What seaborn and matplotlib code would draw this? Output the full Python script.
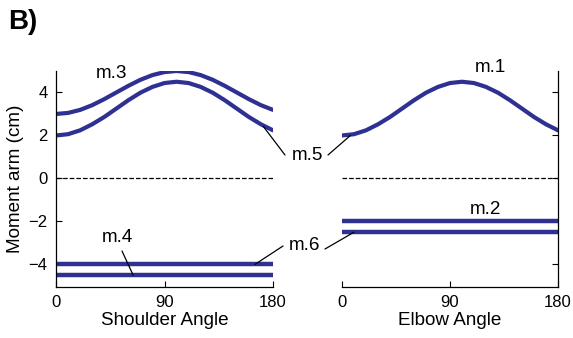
#!/usr/bin/env python3
"""
Moment arms of the six muscles over shoulder and elbow angle (panel B)
"""
import matplotlib
matplotlib.use("Agg")
import matplotlib.pyplot as plt
import seaborn as sns

angles = [0, 10, 20, 30, 40, 50, 60, 70, 80, 90, 100, 110, 120, 130, 140, 150, 160, 170, 180]

# shoulder muscles (cm)
m3 = [3.00, 3.05, 3.19, 3.41, 3.69, 4.00, 4.31, 4.59, 4.81, 4.95, 5.00, 4.95, 4.81, 4.59, 4.31, 4.00, 3.69, 3.41, 3.19]
m5 = [2.00, 2.06, 2.24, 2.52, 2.86, 3.25, 3.64, 3.99, 4.26, 4.44, 4.50, 4.44, 4.26, 3.99, 3.64, 3.25, 2.86, 2.52, 2.24]
m4_ends = [0, 180]
m4 = [-4.5, -4.5]
m6_shoulder = [-4.0, -4.0]

# elbow muscles (cm)
m1 = [2.00, 2.06, 2.24, 2.52, 2.86, 3.25, 3.64, 3.99, 4.26, 4.44, 4.50, 4.44, 4.26, 3.99, 3.64, 3.25, 2.86, 2.52, 2.24]
m2 = [-2.0, -2.0]
m6_elbow = [-2.5, -2.5]

xticks = [0, 90, 180]
yticks = [-4, -2, 0, 2, 4]

BLUE = "#2e3192"
W, H = 573, 338
LABEL_FS = 13.6


def fx(px):
    return px / W


def fy(py):
    return 1 - py / H


sns.set_style("ticks")
plt.rcParams['font.family'] = ['Liberation Sans', 'DejaVu Sans']
plt.rcParams['font.size'] = 12
plt.rcParams['xtick.direction'] = 'in'
plt.rcParams['ytick.direction'] = 'in'
for key in ['text.color', 'axes.labelcolor', 'xtick.color', 'ytick.color']:
    plt.rcParams[key] = 'black'

fig = plt.figure(figsize=(W / 100, H / 100), dpi=100)
ax_s = fig.add_axes([fx(56), fy(287), fx(273) - fx(56), fy(71) - fy(287)])
ax_e = fig.add_axes([fx(342), fy(287), fx(558) - fx(342), fy(71) - fy(287)])

# shoulder panel
sns.lineplot(x=angles, y=m3, ax=ax_s, color=BLUE, lw=3.0)
sns.lineplot(x=angles, y=m5, ax=ax_s, color=BLUE, lw=3.0)
sns.lineplot(x=m4_ends, y=m6_shoulder, ax=ax_s, color=BLUE, lw=3.2)
sns.lineplot(x=m4_ends, y=m4, ax=ax_s, color=BLUE, lw=3.2)
ax_s.plot([0, 180], [0, 0], 'k--', lw=0.9)

# elbow panel
sns.lineplot(x=angles, y=m1, ax=ax_e, color=BLUE, lw=3.0)
sns.lineplot(x=m4_ends, y=m2, ax=ax_e, color=BLUE, lw=3.2)
sns.lineplot(x=m4_ends, y=m6_elbow, ax=ax_e, color=BLUE, lw=3.2)
ax_e.plot([0, 180], [0, 0], 'k--', lw=0.9)

for ax in (ax_s, ax_e):
    ax.set_xlim(0, 180)
    ax.set_ylim(-5.05, 5.0)
    ax.set_xticks(xticks)
    ax.set_yticks(yticks)
    ax.tick_params(length=4, width=0.8, labelsize=12, pad=6)
    ax.spines['top'].set_visible(False)
    for s in ax.spines.values():
        s.set_linewidth(0.9)
        s.set_color('black')

ax_s.spines['right'].set_visible(False)
ax_s.set_xlabel('Shoulder Angle', fontsize=LABEL_FS, labelpad=1)
ax_s.set_ylabel('Moment arm (cm)', fontsize=LABEL_FS, labelpad=3)

ax_e.spines['left'].set_visible(False)
ax_e.yaxis.tick_right()
ax_e.tick_params(axis='y', labelright=False)
ax_e.set_xlabel('Elbow Angle', fontsize=LABEL_FS, labelpad=1)

# muscle labels
fig.text(fx(112), fy(73), 'm.3', ha='center', va='center', fontsize=LABEL_FS)
fig.text(fx(490), fy(68), 'm.1', ha='center', va='center', fontsize=LABEL_FS)
fig.text(fx(486), fy(209), 'm.2', ha='center', va='center', fontsize=LABEL_FS)
fig.text(fx(117), fy(238), 'm.4', ha='center', va='center', fontsize=LABEL_FS)
fig.text(fx(307), fy(156), 'm.5', ha='center', va='center', fontsize=LABEL_FS)
fig.text(fx(305), fy(246), 'm.6', ha='center', va='center', fontsize=LABEL_FS)

# leader lines
lead = dict(arrowstyle='-', color='black', lw=0.9, shrinkA=0, shrinkB=0)
ax_s.annotate('', xy=(172, 2.42), xytext=(fx(285), fy(155)), textcoords='figure fraction',
              arrowprops=lead, annotation_clip=False)
ax_e.annotate('', xy=(7, 2.0), xytext=(fx(328), fy(155)), textcoords='figure fraction',
              arrowprops=lead, annotation_clip=False)
ax_s.annotate('', xy=(165, -4.0), xytext=(fx(283), fy(246)), textcoords='figure fraction',
              arrowprops=lead, annotation_clip=False)
ax_e.annotate('', xy=(10, -2.5), xytext=(fx(325), fy(249)), textcoords='figure fraction',
              arrowprops=lead, annotation_clip=False)
ax_s.annotate('', xy=(64, -4.5), xytext=(fx(122), fy(251)), textcoords='figure fraction',
              arrowprops=lead, annotation_clip=False)

fig.text(fx(8), fy(9), 'B)', ha='left', va='top', fontsize=20, fontweight='bold')

fig.savefig('out.png', dpi=100)
